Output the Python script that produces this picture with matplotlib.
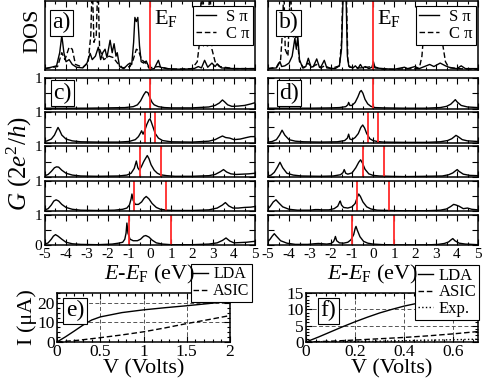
import numpy as np
import matplotlib.pyplot as plt
from matplotlib.ticker import MultipleLocator, FormatStrFormatter
from matplotlib.lines import Line2D

plt.rcParams['font.family'] = 'serif'
plt.rcParams['font.serif'] = ['Liberation Serif', 'Times New Roman', 'DejaVu Serif']
plt.rcParams['mathtext.fontset'] = 'custom'
plt.rcParams['mathtext.rm'] = 'Liberation Serif'
plt.rcParams['mathtext.it'] = 'Liberation Serif:italic'
plt.rcParams['axes.unicode_minus'] = False
plt.rcParams['xtick.direction'] = 'in'
plt.rcParams['ytick.direction'] = 'in'
plt.rcParams['xtick.top'] = True
plt.rcParams['ytick.right'] = True
plt.rcParams['axes.linewidth'] = 1.1

# ---- DOS (panels a, b): (E - EF, DOS) ----
a_spi = [(-5, .02), (-4.7, .04), (-4.45, .06), (-4.3, .25), (-4.2, .5), (-4.1, .25), (-4.0, .12),
         (-3.85, .15), (-3.7, .08), (-3.5, .04), (-3.2, .03), (-3.0, .1), (-2.85, .24), (-2.75, .15),
         (-2.6, .2), (-2.46, .33), (-2.35, .15), (-2.25, .25), (-2.14, .3), (-2.05, .18), (-1.9, .43),
         (-1.8, .25), (-1.71, .38), (-1.62, .2), (-1.56, .25), (-1.45, .05), (-1.25, .02), (-1.05, .08),
         (-0.95, .1), (-0.87, .08), (-0.78, .4), (-0.72, .76), (-0.65, .7), (-0.58, .76), (-0.5, .35),
         (-0.42, .12), (-0.3, .1), (-0.18, .13), (-0.08, .06), (0, .01), (0.2, .02), (0.33, .1),
         (0.4, .14), (0.5, .04), (0.8, .02), (1.5, .01), (2.1, .02), (2.3, .05), (2.45, .03),
         (2.6, .14), (2.75, .04), (2.95, .1), (3.1, .05), (3.2, .09), (3.4, .03), (4, .02), (5, .02)]
a_cpi = [(-5, .02), (-4.4, .05), (-4.2, .25), (-4.05, .15), (-3.85, .33), (-3.7, .3), (-3.55, .08),
         (-3.2, .04), (-2.95, .1), (-2.82, .5), (-2.75, 1.3), (-2.67, .4), (-2.56, .5), (-2.48, 1.3),
         (-2.4, .3), (-2.2, .15), (-1.95, .2), (-1.75, .18), (-1.55, .1), (-1.3, .03), (-0.95, .05),
         (-0.8, .15), (-0.65, .3), (-0.55, .28), (-0.4, .15), (-0.2, .1), (-0.05, .03), (0.4, .05),
         (1.0, .01), (2.0, .02), (2.25, .12), (2.38, .45), (2.45, 1.3), (2.55, .35), (2.75, .35),
         (2.85, 1.3), (2.95, .3), (3.1, .12), (3.3, .05), (4, .02), (5, .02)]
b_spi = [(-5, .02), (-4.6, .03), (-4.5, .08), (-4.43, .12), (-4.35, .05), (-4.2, .06), (-4.0, .1),
         (-3.85, .2), (-3.72, .46), (-3.65, .3), (-3.58, .48), (-3.5, .15), (-3.35, .03), (-3.2, .05),
         (-3.08, .17), (-2.95, .04), (-2.84, .05), (-2.68, .16), (-2.55, .04), (-2.47, .05),
         (-2.32, .14), (-2.2, .03), (-1.8, .02), (-1.6, .06), (-1.5, .3), (-1.4, 1.3), (-1.3, 1.3),
         (-1.22, .2), (-1.15, .05), (-0.95, .03), (-0.84, .06), (-0.72, .02), (-0.6, .08), (-0.5, .03),
         (-0.37, .05), (-0.2, .02), (-0.05, .04), (0.02, .12), (0.1, .03), (0.5, .02), (1.0, .01),
         (1.5, .04), (1.65, .02), (2.0, .05), (2.2, .02), (2.45, .05), (2.7, .08), (2.9, .05),
         (3.2, .1), (3.45, .06), (3.7, .03), (4.0, .02), (4.2, .06), (4.4, .02), (5, .02)]
b_cpi = [(-5, .02), (-4.6, .04), (-4.4, .15), (-4.3, .6), (-4.25, 1.3), (-4.18, .3), (-4.05, .2),
         (-3.93, 1.3), (-3.85, .5), (-3.72, .45), (-3.62, .5), (-3.5, .12), (-3.3, .03), (-3.1, .1),
         (-2.9, .04), (-2.7, .08), (-2.5, .03), (-2.3, .06), (-2.0, .02), (-1.6, .06), (-1.5, .4),
         (-1.42, 1.3), (-1.28, 1.3), (-1.2, .15), (-1.1, .04), (-0.6, .03), (0, .05), (0.5, .01),
         (2.2, .02), (2.33, .2), (2.42, .55), (2.55, .45), (2.68, .6), (2.8, .5), (2.95, .62),
         (3.08, .45), (3.2, .55), (3.33, .35), (3.45, .12), (3.6, .04), (4, .02), (5, .01)]

# ---- transmission G(E) under bias (panels c, d) ----
bias = [0.0, 0.5, 1.0, 1.5, 2.0]

c1 = [(-5, .01), (-4, .01), (-3, .01), (-2, .02), (-1.2, .03), (-0.8, .06), (-0.6, .12), (-0.45, .25),
      (-0.3, .45), (-0.2, .55), (-0.1, .52), (0.0, .35), (0.1, .2), (0.2, .12), (0.4, .06), (0.7, .03),
      (1.0, .02), (2.0, .02), (2.8, .05), (3.1, .1), (3.3, .18), (3.45, .28), (3.55, .22), (3.7, .12),
      (3.9, .07), (4.2, .08), (4.5, .1), (4.8, .15), (5.0, .19)]
c2 = [(-5, .04), (-4.9, .06), (-4.7, .12), (-4.55, .25), (-4.45, .4), (-4.38, .5), (-4.3, .4),
      (-4.2, .25), (-4.0, .12), (-3.7, .06), (-3.3, .03), (-2.5, .02), (-1.5, .02), (-1.0, .04),
      (-0.7, .1), (-0.55, .2), (-0.45, .32), (-0.4, .39), (-0.33, .28), (-0.25, .4), (-0.15, .6),
      (-0.05, .75), (0.0, .78), (0.05, .7), (0.15, .5), (0.25, .3), (0.4, .15), (0.6, .07), (1.0, .03),
      (2.0, .02), (2.8, .05), (3.1, .1), (3.3, .17), (3.45, .22), (3.6, .17), (3.8, .15), (4.0, .1),
      (4.3, .12), (4.6, .17), (4.8, .2), (5.0, .2)]
c3 = [(-5, .04), (-4.85, .08), (-4.7, .18), (-4.55, .3), (-4.45, .33), (-4.35, .32), (-4.2, .22),
      (-4.0, .12), (-3.7, .06), (-3.3, .03), (-2.5, .02), (-1.5, .03), (-1.1, .06), (-0.9, .12),
      (-0.75, .28), (-0.65, .52), (-0.58, .3), (-0.5, .22), (-0.4, .35), (-0.3, .5), (-0.2, .62),
      (-0.13, .7), (-0.05, .6), (0.05, .4), (0.2, .22), (0.35, .12), (0.5, .07), (0.8, .04), (1.2, .02),
      (2.0, .02), (2.8, .04), (3.1, .08), (3.35, .17), (3.5, .24), (3.65, .16), (3.85, .1), (4.1, .08),
      (4.4, .09), (4.7, .1), (5.0, .12)]
c4 = [(-5, .04), (-4.85, .08), (-4.7, .2), (-4.58, .33), (-4.47, .37), (-4.35, .33), (-4.2, .22),
      (-4.0, .12), (-3.7, .06), (-3.3, .03), (-2.5, .02), (-1.7, .03), (-1.3, .06), (-1.1, .1),
      (-0.98, .2), (-0.9, .4), (-0.86, .56), (-0.8, .35), (-0.7, .22), (-0.55, .22), (-0.4, .3),
      (-0.28, .42), (-0.18, .48), (-0.05, .4), (0.1, .25), (0.3, .12), (0.5, .06), (0.8, .03),
      (1.2, .02), (2.0, .02), (2.8, .04), (3.2, .1), (3.45, .2), (3.59, .28), (3.75, .17), (3.95, .1),
      (4.2, .1), (4.5, .12), (4.8, .13), (5.0, .15)]
c5 = [(-5, .04), (-4.85, .08), (-4.7, .2), (-4.6, .3), (-4.5, .35), (-4.38, .3), (-4.2, .2), (-4.0, .1),
      (-3.7, .05), (-3.3, .03), (-2.5, .02), (-1.8, .04), (-1.5, .07), (-1.3, .1), (-1.2, .2),
      (-1.14, .4), (-1.1, .73), (-1.05, .4), (-0.95, .2), (-0.8, .15), (-0.6, .15), (-0.45, .2),
      (-0.3, .3), (-0.2, .32), (-0.05, .27), (0.1, .17), (0.3, .08), (0.6, .04), (1.0, .02), (2.0, .02),
      (2.8, .04), (3.2, .08), (3.45, .16), (3.62, .24), (3.8, .14), (4.0, .08), (4.3, .09), (4.6, .1),
      (4.85, .12), (5.0, .13)]

d1 = [(-5, .01), (-4, .01), (-3, .01), (-2, .02), (-1.6, .03), (-1.3, .06), (-1.2, .12), (-1.16, .2),
      (-1.1, .1), (-1.0, .1), (-0.85, .2), (-0.72, .38), (-0.62, .55), (-0.56, .59), (-0.48, .5),
      (-0.38, .3), (-0.25, .15), (-0.1, .07), (0.1, .03), (0.5, .02), (1.5, .01), (2.5, .01), (3.2, .03),
      (3.5, .07), (3.7, .14), (3.85, .24), (3.92, .29), (4.0, .22), (4.2, .1), (4.5, .05), (5.0, .03)]
d2 = [(-5, .02), (-4.8, .04), (-4.6, .1), (-4.45, .25), (-4.33, .41), (-4.2, .25), (-4.0, .1),
      (-3.7, .05), (-3.3, .03), (-2.5, .02), (-1.7, .03), (-1.35, .07), (-1.22, .15), (-1.16, .28),
      (-1.1, .12), (-1.0, .1), (-0.85, .17), (-0.7, .3), (-0.58, .5), (-0.49, .58), (-0.4, .48),
      (-0.3, .3), (-0.15, .13), (0.0, .07), (0.2, .04), (0.5, .02), (1.5, .01), (2.5, .01), (3.2, .03),
      (3.55, .07), (3.75, .13), (3.88, .2), (3.95, .24), (4.05, .2), (4.25, .1), (4.5, .06), (5.0, .04)]
d3 = [(-5, .03), (-4.85, .06), (-4.7, .15), (-4.55, .32), (-4.43, .48), (-4.3, .3), (-4.1, .12),
      (-3.8, .06), (-3.4, .03), (-2.5, .02), (-1.9, .03), (-1.55, .07), (-1.43, .14), (-1.37, .24),
      (-1.3, .12), (-1.2, .09), (-1.0, .13), (-0.82, .3), (-0.68, .48), (-0.59, .56), (-0.5, .45),
      (-0.38, .25), (-0.2, .1), (0.0, .05), (0.3, .03), (0.8, .02), (1.5, .01), (2.5, .02), (3.3, .03),
      (3.6, .07), (3.8, .13), (3.93, .2), (4.01, .24), (4.1, .18), (4.3, .09), (4.6, .05), (5.0, .04)]
d4 = [(-5, .08), (-4.9, .15), (-4.75, .3), (-4.62, .37), (-4.5, .28), (-4.3, .14), (-4.0, .06),
      (-3.6, .03), (-3.0, .03), (-2.75, .05), (-2.6, .05), (-2.45, .04), (-2.1, .04), (-1.85, .08),
      (-1.68, .16), (-1.6, .28), (-1.56, .33), (-1.5, .2), (-1.4, .12), (-1.2, .1), (-1.0, .14),
      (-0.85, .25), (-0.75, .45), (-0.68, .56), (-0.6, .48), (-0.48, .3), (-0.3, .14), (-0.1, .07),
      (0.2, .03), (0.8, .02), (1.5, .01), (2.5, .01), (3.2, .03), (3.5, .07), (3.7, .15), (3.84, .22),
      (3.95, .2), (4.1, .16), (4.3, .08), (4.5, .1), (4.7, .06), (5.0, .04)]
d5 = [(-5, .12), (-4.9, .2), (-4.8, .3), (-4.7, .38), (-4.6, .3), (-4.4, .15), (-4.1, .07), (-3.7, .03),
      (-3.1, .03), (-2.8, .05), (-2.6, .06), (-2.4, .05), (-2.2, .04), (-2.0, .06), (-1.88, .12),
      (-1.83, .2), (-1.79, .29), (-1.73, .15), (-1.6, .08), (-1.4, .07), (-1.2, .1), (-1.05, .18),
      (-0.92, .35), (-0.85, .55), (-0.81, .62), (-0.75, .5), (-0.62, .28), (-0.45, .13), (-0.25, .07),
      (0.0, .04), (0.5, .02), (1.5, .01), (2.5, .01), (3.1, .03), (3.4, .06), (3.6, .11), (3.72, .18),
      (3.8, .22), (3.9, .15), (4.1, .07), (4.4, .04), (4.7, .03), (5.0, .02)]

# ---- I-V curves (panels e, f): (V, I in uA) ----
e_lda = [(0, 0), (0.1, 2.7), (0.2, 5.6), (0.3, 8.6), (0.4, 11.2), (0.5, 12.8), (0.75, 15.0),
         (1.0, 16.4), (1.25, 17.5), (1.5, 18.5), (1.75, 19.6), (2.0, 20.8)]
e_asic = [(0, 0), (0.25, 0.9), (0.5, 2.2), (0.75, 3.6), (1.0, 5.2), (1.25, 7.2), (1.5, 9.4),
          (1.75, 11.4), (2.0, 13.5)]
f_lda = [(0, 0), (0.05, 1.5), (0.1, 3.1), (0.15, 4.7), (0.2, 6.2), (0.25, 7.6), (0.3, 8.9),
         (0.35, 10.0), (0.4, 11.0), (0.45, 11.8), (0.5, 12.5), (0.6, 13.6), (0.7, 14.5)]
f_asic = [(0, 0), (0.1, 0.25), (0.2, 0.6), (0.3, 1.0), (0.4, 1.4), (0.5, 1.9), (0.6, 2.5), (0.7, 3.2)]
f_exp = [(0, 0), (0.1, 0.05), (0.2, 0.15), (0.3, 0.25), (0.4, 0.4), (0.5, 0.55), (0.6, 0.7), (0.7, 0.85)]

RED = '#ff2a2a'
DASH = (0, (4, 2))
W, H = 491, 381
fig = plt.figure(figsize=(W / 100, H / 100), dpi=100)


def add(l, t, r, b):
    return fig.add_axes([l / W, 1 - b / H, (r - l) / W, (b - t) / H])


def xy(pts):
    a = np.array(pts, dtype=float)
    return a[:, 0], a[:, 1]


def tag(ax, s, x, y):
    ax.text(x, y, s, transform=ax.transAxes, ha='center', va='center', fontsize=17, zorder=6,
            bbox=dict(boxstyle='square,pad=0.1', fc='white', ec='black', lw=0.8))


def energy_axis(ax):
    ax.set_xlim(-5, 5)
    ax.xaxis.set_major_locator(MultipleLocator(1))
    ax.xaxis.set_minor_locator(MultipleLocator(0.5))
    ax.tick_params(which='major', length=4, width=0.8, labelsize=11, pad=2)
    ax.tick_params(which='minor', length=2.5, width=0.8)
    ax.tick_params(labelbottom=False)


cols = [(45, 255), (268, 478)]

# DOS panels
for (l, r), spi, cpi, name in [(cols[0], a_spi, a_cpi, 'a)'), (cols[1], b_spi, b_cpi, 'b)')]:
    ax = add(l, 0.8, r, 70)
    energy_axis(ax)
    ax.set_ylim(0, 1)
    ax.set_yticks([])
    ax.plot(*xy(spi), color='black', lw=1.0)
    ax.plot(*xy(cpi), color='black', lw=1.0, ls=DASH)
    ax.axvline(0, color=RED, lw=1.3)
    tag(ax, name, 0.08 if name == 'a)' else 0.098, 0.68)
    ax.text(0.517, 0.9, r'$\mathrm{E}_\mathrm{F}$', transform=ax.transAxes, ha='left', va='top',
            fontsize=16)
    h = [Line2D([], [], color='black', lw=1.0), Line2D([], [], color='black', lw=1.0, ls=DASH)]
    lg = ax.legend(h, ['S \u03c0', 'C \u03c0'], loc='upper right', bbox_to_anchor=(0.99, 0.93),
                   borderaxespad=0, fancybox=False, edgecolor='black', framealpha=1, fontsize=12,
                   handlelength=1.2, handletextpad=0.6, labelspacing=0.05, borderpad=0.2)
    lg.get_frame().set_linewidth(0.8)
    lg.set_zorder(7)

fig.text(33 / W, 1 - 31 / H, 'DOS', rotation=90, ha='center', va='center', fontsize=16)

# transmission panels
rows_c = [c1, c2, c3, c4, c5]
rows_d = [d1, d2, d3, d4, d5]
for ci, ((l, r), rows) in enumerate(zip(cols, [rows_c, rows_d])):
    for i, (curve, v) in enumerate(zip(rows, bias)):
        t = 78 + i * 34.2
        ax = add(l, t, r, t + 30.5)
        energy_axis(ax)
        ax.set_ylim(0, 1)
        ax.set_yticks([0, 0.5, 1])
        if ci == 0:
            ax.set_yticklabels(['0' if i == 4 else '', '', '1'])
        else:
            ax.set_yticklabels([])
        ax.plot(*xy(curve), color='black', lw=1.0)
        for e in sorted({-v / 2, v / 2}):
            ax.axvline(e, color=RED, lw=1.3)
        if i == 4:
            ax.tick_params(labelbottom=True)
        if i == 0:
            tag(ax, 'c)' if ci == 0 else 'd)', 0.083 if ci == 0 else 0.1, 0.5)
    fig.text(((l + r) / 2) / W, 1 - 274 / H, r'$E$-$E_\mathrm{F}$ (eV)', ha='center', va='center',
             fontsize=16)

fig.text(19 / W, 1 - 163 / H, r'$G\ (2e^2/h)$', rotation=90, ha='center', va='center', fontsize=18)

# I-V panels
panels = [
    ((57, 230), [(e_lda, '-', 'LDA'), (e_asic, DASH, 'ASIC')], 2.0, 25, 0.5, 10, 'e)',
     (1.127, 1.59), 11.5),
    ((306, 478), [(f_lda, '-', 'LDA'), (f_asic, DASH, 'ASIC'), (f_exp, ':', 'Exp.')], 0.7, 15,
     0.2, 5, 'f)', (1.006, 1.57), 12),
]
for (l, r), curves, xmax, ymax, xmaj, ymaj, name, anchor, lfs in panels:
    ax = add(l, 293, r, 342)
    ax.set_xlim(0, xmax)
    ax.set_ylim(0, ymax)
    ax.xaxis.set_major_locator(MultipleLocator(xmaj))
    ax.xaxis.set_minor_locator(MultipleLocator(xmaj / 5))
    ax.xaxis.set_major_formatter(FormatStrFormatter('%g'))
    ax.yaxis.set_major_locator(MultipleLocator(ymaj))
    ax.yaxis.set_minor_locator(MultipleLocator(ymaj / 5 if name == 'f)' else ymaj / 4))
    ax.yaxis.set_major_formatter(FormatStrFormatter('%g'))
    ax.tick_params(which='major', length=4, width=0.8, labelsize=12.5, pad=1.5)
    ax.tick_params(which='minor', length=2, width=0.8)
    ax.grid(True, which='major', color='#555555', ls=(0, (4, 2.5)), lw=0.7)
    hs = []
    for pts, ls, lab in curves:
        hs += ax.plot(*xy(pts), color='black', lw=1.0, ls=ls, label=lab)
    tag(ax, name, 0.104 if name == 'e)' else 0.13, 0.64)
    lg = ax.legend(hs, [c[2] for c in curves], loc='upper right', bbox_to_anchor=anchor,
                   borderaxespad=0, fancybox=False, edgecolor='black', framealpha=1, fontsize=lfs,
                   handlelength=0.9, handletextpad=0.35, labelspacing=0.05, borderpad=0.15)
    lg.get_frame().set_linewidth(0.8)
    lg.set_zorder(7)
    fig.text(((l + r) / 2) / W, 1 - 369 / H, 'V (Volts)', ha='center', va='center', fontsize=16)

fig.text(27 / W, 1 - 317 / H, 'I (\u03bcA)', rotation=90, ha='center', va='center', fontsize=16)

fig.savefig('out.png', dpi=100)
